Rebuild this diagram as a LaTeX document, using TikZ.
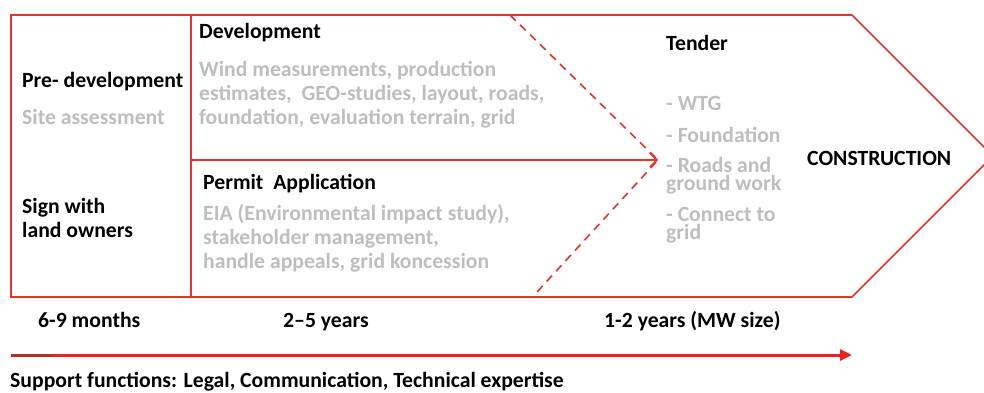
\documentclass[tikz,border=0pt]{standalone}
\usepackage{fontspec}
\setmainfont{Carlito}
\usetikzlibrary{arrows.meta}
\definecolor{bred}{RGB}{232,52,40}
\definecolor{ared}{RGB}{240,32,28}
\definecolor{dred}{RGB}{190,45,35}
\definecolor{lgray}{RGB}{190,190,190}
\tikzset{
  frame/.style={draw=bred, line width=1.6pt, line join=miter},
  dashline/.style={draw=bred, line width=1.6pt, dash pattern=on 8pt off 6pt},
  txt/.style={inner sep=0pt, anchor=base west, align=left, font=\fontsize{21.7}{24}\selectfont\bfseries},
  head/.style={txt, text=black},
  soft/.style={txt, text=lgray},
  tight/.style={font=\fontsize{21.7}{18}\selectfont\bfseries},
}
\begin{document}
\begin{tikzpicture}[x=1pt,y=-1pt]
\useasboundingbox (0,0) rectangle (984,392);
% frame coordinates
\coordinate (TL) at (11,15);
\coordinate (TR) at (852,15);
\coordinate (tip) at (993,156);
\coordinate (BR) at (852,297);
\coordinate (BL) at (11,297);
\coordinate (DT) at (191,15);
\coordinate (DB) at (191,297);
\coordinate (DM) at (191,160);
\coordinate (mid) at (658,160);
\coordinate (dashT) at (510,15);
\coordinate (dashB) at (537,292);
\coordinate (axL) at (11,355);
\coordinate (axD) at (53,355);
\coordinate (axR) at (852,355);
% outline
\draw[frame] (TL) -- (TR) -- (tip) -- (BR) -- (BL) -- cycle;
\draw[frame] (DT) -- (DB);
\draw[frame, -{Straight Barb[length=7pt,width=14pt]}] (DM) -- (mid);
\draw[dashline] (dashT) -- (mid) -- (dashB);
% texts (multi-line nodes: base = last line)
\node[head] (pre) at (22,87) {Pre- development};
\node[soft] (site) at (22,124) {Site assessment};
\node[head] (sign) at (22,237) {Sign with\\land owners};
\node[head] (dev) at (199,38) {Development};
\node[soft] (devtxt) at (199,124) {Wind measurements, production\\estimates,\ \ GEO-studies, layout, roads,\\foundation, evaluation terrain, grid};
\node[head] (perm) at (203,189) {Permit\ \ Application};
\node[soft] (permtxt) at (203,268) {EIA (Environmental impact study),\\stakeholder management,\\handle appeals, grid koncession};
\node[head] (tender) at (666,50) {Tender};
\node[soft] (wtg) at (666,110) {- WTG};
\node[soft] (found) at (666,142) {- Foundation};
\node[soft, tight] (roads) at (666,190) {- Roads and\\ground work};
\node[soft, tight] (conn) at (666,239) {- Connect to\\grid};
\node[head] (constr) at (807,165) {CONSTRUCTION};
% bottom
\node[head] (t1) at (38,327) {6-9 months};
\node[head] (t2) at (283,327) {2--5 years};
\node[head] (t3) at (604,327) {1-2 years (MW size)};
\draw[ared, line width=3pt, -{Triangle[length=12pt,width=11pt]}] (axL) -- (axR);
\draw[dred, line width=3pt] (axL) -- (axD);
\node[head] (sup) at (10,387) {Support functions: Legal, Communication, Technical expertise};
\end{tikzpicture}
\end{document}
